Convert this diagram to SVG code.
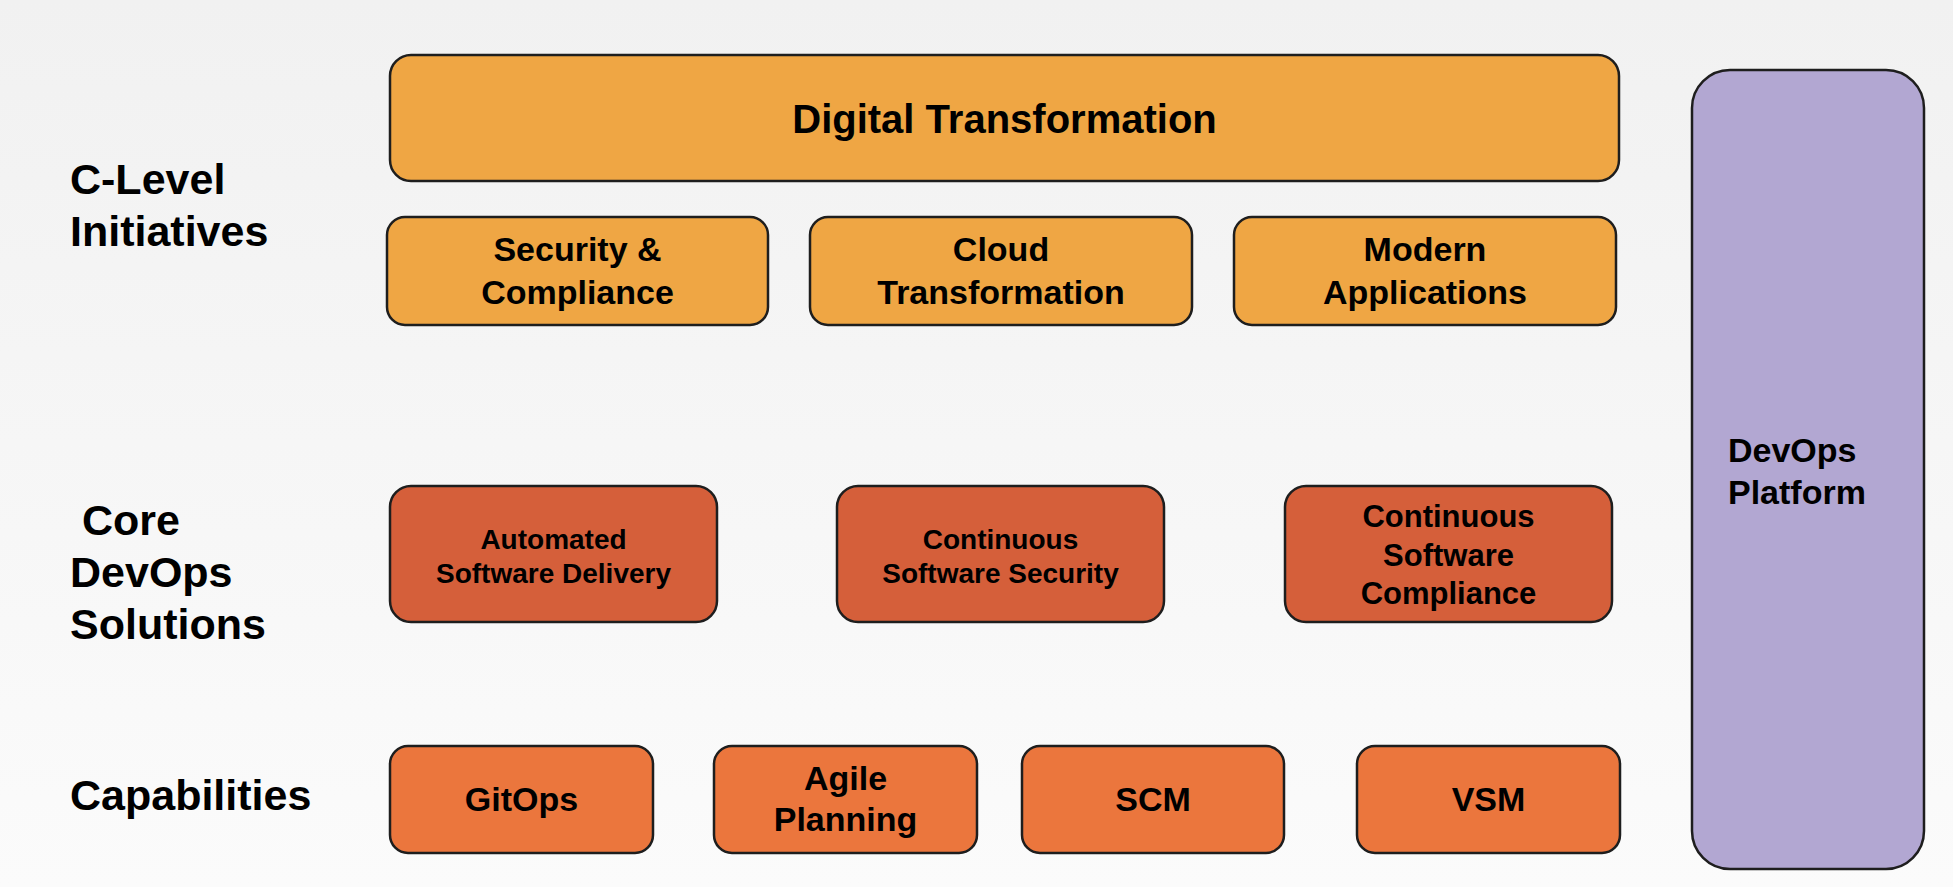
<svg xmlns="http://www.w3.org/2000/svg" width="1953" height="887" viewBox="0 0 1953 887">
<defs>
<linearGradient id="bg" x1="0" y1="0" x2="0" y2="1">
<stop offset="0" stop-color="#f1f1f1"/>
<stop offset="1" stop-color="#fbfbfb"/>
</linearGradient>
</defs>
<style>
.box{stroke:#1e1e1e;stroke-width:2.5}
.init{fill:#efa644}
.core{fill:#d55f3a}
.cap{fill:#eb763d}
.plat{fill:#b2a7d2}
text{font-family:"Liberation Sans",Arial,sans-serif;font-weight:bold;fill:#000}
.lbl{font-size:43px}
.t40{font-size:40px;text-anchor:middle}
.t34{font-size:34px;text-anchor:middle}
.t31{font-size:31px;text-anchor:middle}
.t28{font-size:28px;text-anchor:middle}
</style>
<rect x="0" y="0" width="1953" height="887" fill="url(#bg)"/>
<g id="labels">
<text class="lbl" x="70" y="194">C-Level</text>
<text class="lbl" x="70" y="246">Initiatives</text>
<text class="lbl" x="82" y="535">Core</text>
<text class="lbl" x="70" y="587">DevOps</text>
<text class="lbl" x="70" y="639">Solutions</text>
<text class="lbl" x="70" y="810">Capabilities</text>
</g>
<g id="connectors"></g>
<g id="digital-transformation">
<rect class="box init" x="390" y="55" width="1229" height="126" rx="21"/>
<text class="t40" x="1004.5" y="133">Digital Transformation</text>
</g>
<g id="security-compliance">
<rect class="box init" x="387" y="217" width="381" height="108" rx="18"/>
<text class="t34" x="577.5" y="261">Security &amp;</text>
<text class="t34" x="577.5" y="304">Compliance</text>
</g>
<g id="cloud-transformation">
<rect class="box init" x="810" y="217" width="382" height="108" rx="18"/>
<text class="t34" x="1001" y="261">Cloud</text>
<text class="t34" x="1001" y="304">Transformation</text>
</g>
<g id="modern-applications">
<rect class="box init" x="1234" y="217" width="382" height="108" rx="18"/>
<text class="t34" x="1425" y="261">Modern</text>
<text class="t34" x="1425" y="304">Applications</text>
</g>
<g id="automated-software-delivery">
<rect class="box core" x="390" y="486" width="327" height="136" rx="21"/>
<text class="t28" x="553.5" y="549">Automated</text>
<text class="t28" x="553.5" y="583">Software Delivery</text>
</g>
<g id="continuous-software-security">
<rect class="box core" x="837" y="486" width="327" height="136" rx="21"/>
<text class="t28" x="1000.5" y="549">Continuous</text>
<text class="t28" x="1000.5" y="583">Software Security</text>
</g>
<g id="continuous-software-compliance">
<rect class="box core" x="1285" y="486" width="327" height="136" rx="21"/>
<text class="t31" x="1448.5" y="527">Continuous</text>
<text class="t31" x="1448.5" y="566">Software</text>
<text class="t31" x="1448.5" y="604">Compliance</text>
</g>
<g id="gitops">
<rect class="box cap" x="390" y="746" width="263" height="107" rx="18"/>
<text class="t34" x="521.5" y="811">GitOps</text>
</g>
<g id="agile-planning">
<rect class="box cap" x="714" y="746" width="263" height="107" rx="18"/>
<text class="t34" x="845.5" y="790">Agile</text>
<text class="t34" x="845.5" y="831">Planning</text>
</g>
<g id="scm">
<rect class="box cap" x="1022" y="746" width="262" height="107" rx="18"/>
<text class="t34" x="1153" y="811">SCM</text>
</g>
<g id="vsm">
<rect class="box cap" x="1357" y="746" width="263" height="107" rx="18"/>
<text class="t34" x="1488.5" y="811">VSM</text>
</g>
<g id="devops-platform">
<rect class="box plat" x="1692" y="70" width="232" height="799" rx="38"/>
<text font-size="34" x="1728" y="462">DevOps</text>
<text font-size="34" x="1728" y="504">Platform</text>
</g>
</svg>
